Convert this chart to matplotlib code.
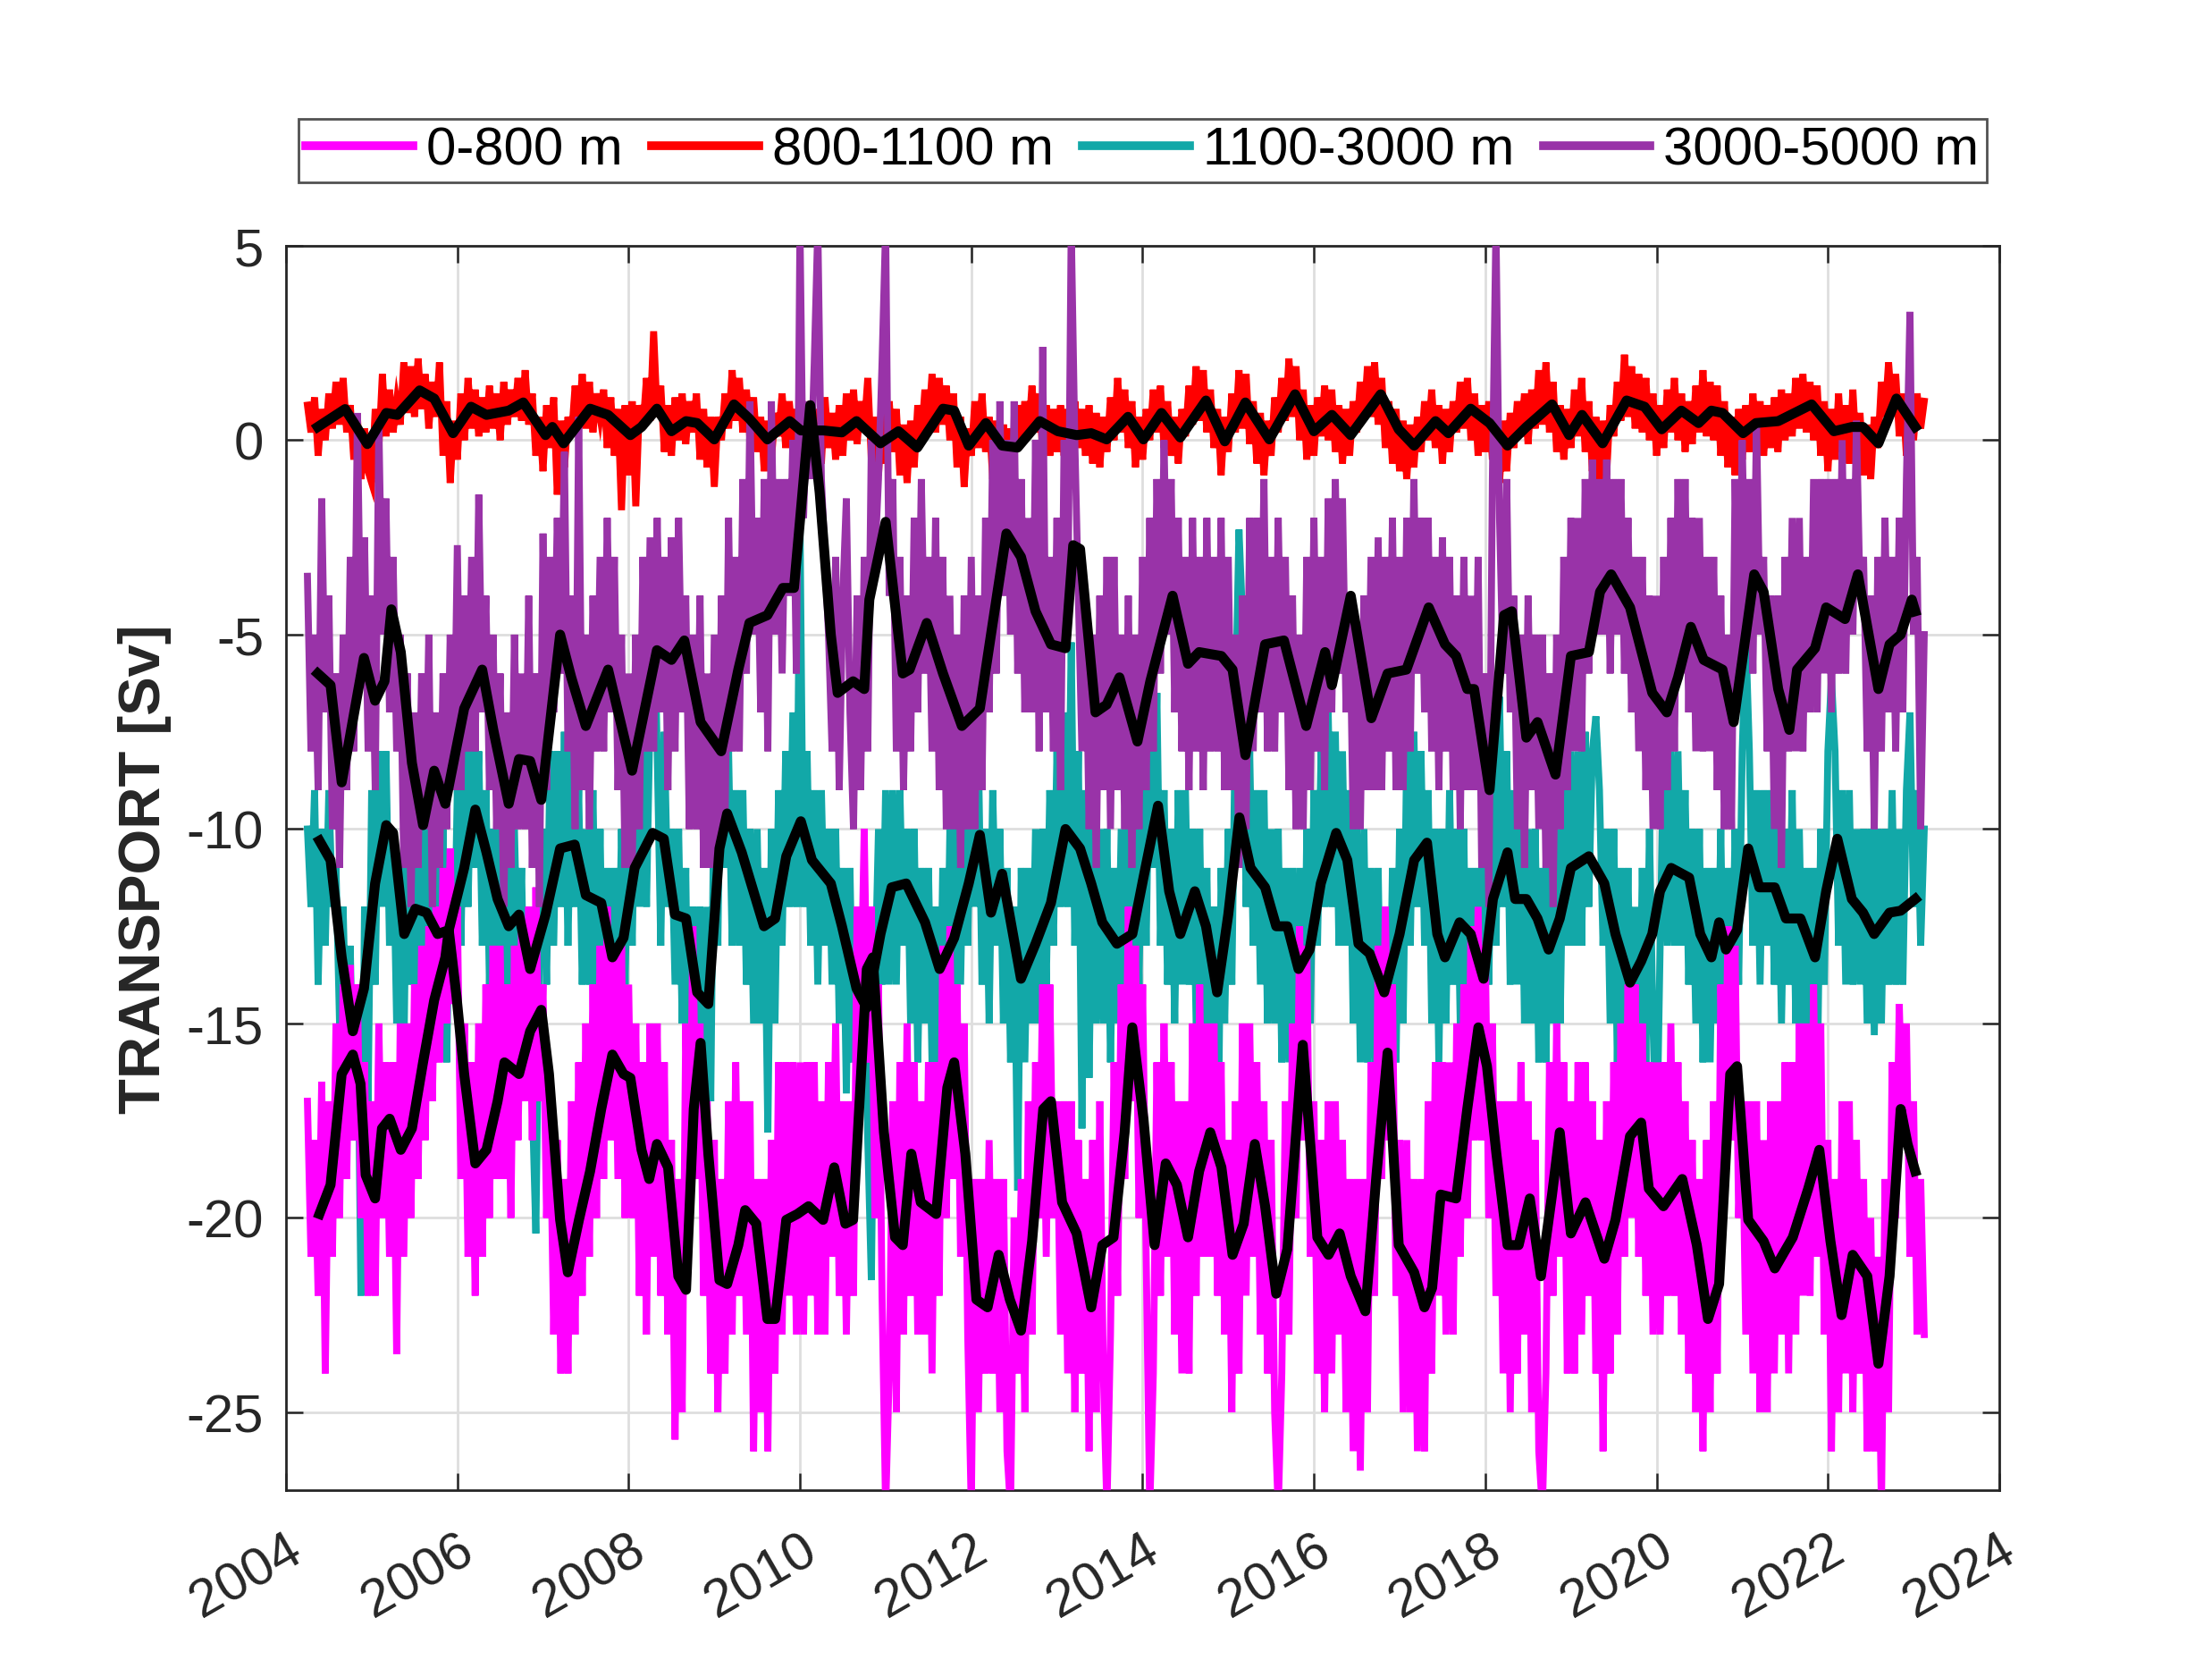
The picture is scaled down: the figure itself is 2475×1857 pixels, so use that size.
import matplotlib
matplotlib.use("Agg")
import matplotlib.pyplot as plt
import numpy as np

plt.rcParams['font.family'] = ['Liberation Sans', 'DejaVu Sans']
plt.rcParams['axes.unicode_minus'] = False

labels = ['0-800 m', '800-1100 m', '1100-3000 m', '3000-5000 m']
colors = ['#FF00FF', '#FF0000', '#12A8A8', '#9933A8']

# raw transports, half-monthly samples from 2004.25 (one row per year)
t_start = 2004.25
raw_0_800 = [
    -17, -21, -18, -22, -16.5, -24, -17, -21, -15, -20, -14, -19, -13.5, -18, -14, -20, -16, -22,
    -17, -22, -15, -20, -16, -21, -16, -23.5, -15, -21, -15, -20, -14, -19, -13, -18, -12.5, -17, -12, -16, -11, -15, -10.5, -14.5,
    -12, -19, -15, -21, -16, -22, -15, -21, -14, -20, -13, -19, -13, -19, -14, -20, -13, -18, -12.5, -17, -12, -18, -11.5, -17,
    -14, -20, -17, -23, -18, -24, -19, -24, -17, -23, -16, -22, -15, -21, -14, -20, -13, -19, -12, -18, -13, -19, -13, -20,
    -14, -20, -15, -22, -16, -23, -15, -21, -15, -22, -16, -23, -18, -25.7, -19, -25, -15, -20, -12.5, -19, -15, -22, -17, -24,
    -18, -25, -19, -24, -17, -23, -16, -22, -17, -23, -17, -26, -19, -25, -19, -26, -18, -24, -16, -23, -16, -22, -16, -23,
    -16, -23, -16, -22, -16, -23, -17, -23, -16, -21, -15, -22, -17, -23, -17, -22, -12, -15, -10, -16, -12, -20, -14, -22,
    -27.5, -24, -17, -25, -16, -23, -15, -22, -16, -23, -17, -23, -16, -24, -16, -22, -13, -20, -12.5, -19, -14, -21, -15, -23,
    -27.5, -19, -25, -19, -24, -18, -24, -19, -25, -19, -26, -27.5, -20, -24, -19, -25, -17, -23, -16, -20, -14, -21, -14, -20,
    -17, -23, -17, -24, -17, -25, -18, -24, -19, -26, -18, -25, -17, -24, -27.5, -23, -16, -22, -14, -19, -12, -17, -13, -20,
    -14, -21, -27.5, -24, -16, -22, -15, -21, -16, -23, -17, -24, -17, -24, -15, -22, -14, -21, -15, -21, -15, -22, -16, -23,
    -18, -25, -17, -24, -15, -22, -15, -21, -16, -23, -17, -24, -18, -25, -27.5, -24, -17, -23, -15, -20, -12.5, -18, -13, -21,
    -17, -24, -18, -25, -17, -24, -17, -23, -18, -25, -19, -26, -19, -26.5, -19, -25, -16, -22, -13, -19, -12, -18, -14, -22,
    -18, -25, -18, -25, -19, -26, -19, -26, -17, -24, -16, -22, -16, -23, -16, -23, -15, -21, -14, -20, -12.5, -18, -12, -18,
    -13, -20, -15, -22, -17, -24, -17, -25, -17, -24, -16, -23, -17, -25, -18, -26, -27.5, -24, -16, -22, -15, -21, -16, -24,
    -17, -24, -16, -23, -16, -22, -17, -24, -18, -26, -17, -24, -16, -23, -15, -21, -14, -20, -14, -21, -15, -22, -16, -23,
    -16, -23, -16, -22, -15, -22, -16, -23, -17, -24, -18, -25, -19, -26, -18, -25, -17, -24, -14, -19, -12.5, -18, -13, -20,
    -17, -23, -17, -24, -17, -25, -18, -25, -17, -24, -17, -23, -16, -24, -16, -23, -15, -22, -15, -22, -14, -21, -15, -23,
    -18, -26, -19, -25, -17, -24, -17, -25, -18, -24, -19, -26, -20, -26, -21, -27.5, -19, -25, -16, -20, -14.5, -18, -15, -21,
    -17, -23, -19, -23,
]
raw_800_1100 = [
    0.9, 0.2, 1.1, -0.4, 0.8, 0.0, 1.2, 0.3, 1.5, 0.4, 1.6, 0.2, 0.9, -0.5, 0.6, -1.0, 0.3, -0.8,
    -1.1, 0.8, -0.2, 1.7, 0.1, 1.3, 0.2, 1.0, 0.4, 2.0, 0.7, 1.9, 0.6, 2.1, 0.8, 1.7, 0.3, 1.5, 0.6, 2.0, -0.4, 1.0, -1.1, 0.5,
    -0.5, 1.2, 0.0, 1.6, 0.3, 1.3, 0.1, 1.1, 0.2, 1.4, 0.3, 1.2, 0.0, 1.5, 0.4, 1.3, 0.6, 1.6, 0.5, 1.8, 0.4, 1.2, -0.4, 0.6,
    -0.8, 0.9, -0.2, 1.1, -1.4, 0.5, -0.7, 0.6, 0.1, 1.4, 0.4, 1.7, 0.3, 1.5, 0.2, 1.2, 0.6, 1.3, -0.2, 1.1, -0.4, 0.8, -1.8, 0.9,
    -0.9, 1.0, -1.7, 0.9, 0.3, 1.6, 0.5, 2.8, 0.6, 1.4, -0.3, 0.9, -0.4, 1.1, 0.0, 1.2, -0.1, 1.0, 0.2, 1.2, -0.5, 0.8, -0.7, 0.6,
    -1.2, 0.6, 0.0, 1.2, 0.3, 1.8, 0.5, 1.6, 0.2, 1.3, 0.0, 1.1, -0.3, 0.6, -0.8, 0.5, -0.5, 0.7, 0.1, 1.2, -0.2, 1.0, 0.0, 0.8,
    -0.5, 0.9, -0.3, 1.0, -0.4, 0.8, -0.6, 1.1, -0.2, 0.7, -0.5, 0.9, -0.4, 1.2, 0.0, 1.3, -0.1, 1.0, 0.3, 1.6, -0.5, 0.6, -0.9, 0.7,
    -0.6, 1.0, -0.3, 0.8, -0.9, 0.4, -1.1, 0.5, -0.7, 0.9, 0.0, 1.3, 0.3, 1.7, 0.2, 1.6, 0.4, 1.4, 0.0, 1.2, -0.7, 0.6, -1.2, 0.3,
    -0.4, 1.0, -0.2, 1.2, -0.3, 0.6, -1.0, 0.5, -0.9, 0.4, -0.6, 0.3, -0.4, 0.9, -0.1, 1.0, 0.1, 1.4, 0.2, 1.2, -0.3, 0.9, -0.4, 0.8,
    -0.3, 0.9, -0.4, 0.8, -0.5, 1.0, -0.2, 0.8, -0.4, 0.9, -0.6, 0.7, -0.7, 0.6, -0.3, 1.1, 0.0, 1.6, 0.2, 1.3, -0.2, 1.0, -0.7, 0.6,
    -0.5, 0.8, 0.0, 1.3, 0.2, 1.4, -0.2, 1.0, -0.4, 0.6, -0.6, 0.8, 0.1, 1.4, 0.4, 1.9, 0.5, 1.8, 0.2, 1.3, -0.2, 0.8, -0.9, 0.6,
    -0.3, 1.2, 0.2, 1.8, 0.3, 1.7, -0.1, 1.0, -0.6, 0.7, -0.9, 0.5, -0.4, 1.1, 0.2, 1.6, 0.5, 2.1, 0.6, 1.9, 0.0, 1.3, -0.5, 0.9,
    -0.4, 1.1, 0.1, 1.4, 0.0, 1.3, -0.3, 0.9, -0.6, 0.8, -0.4, 1.0, 0.2, 1.5, 0.5, 1.9, 0.6, 2.0, 0.4, 1.6, -0.2, 1.0, -0.6, 0.8,
    -0.8, 0.5, -1.0, 0.4, -0.7, 0.6, -0.3, 1.0, 0.0, 1.3, -0.2, 0.9, -0.6, 0.8, -0.3, 1.0, 0.2, 1.5, 0.3, 1.6, 0.0, 1.2, -0.4, 0.9,
    -0.3, 1.0, -0.5, 0.6, -1.1, 0.5, -0.8, 0.7, -0.2, 1.0, 0.1, 1.2, -0.1, 1.3, 0.3, 1.8, 0.4, 2.0, 0.2, 1.5, -0.3, 0.9, -0.5, 0.8,
    -0.2, 1.3, 0.1, 1.6, -0.3, 1.0, -0.8, 0.6, -1.6, 0.5, -0.9, 0.9, 0.1, 1.5, 0.5, 2.2, 0.6, 1.9, 0.3, 1.7, 0.2, 1.6, 0.0, 1.2,
    -0.4, 0.9, -0.2, 1.3, 0.2, 1.6, 0.0, 1.2, -0.3, 1.0, -0.1, 1.4, 0.2, 1.8, 0.1, 1.5, 0.0, 1.4, -0.4, 1.0, -0.7, 0.6, -0.9, 0.8,
    -0.5, 0.9, -0.3, 1.2, -0.1, 1.0, -0.4, 0.9, -0.2, 1.1, -0.3, 1.3, 0.0, 1.2, 0.1, 1.6, 0.3, 1.7, 0.2, 1.5, 0.0, 1.4, -0.4, 1.0,
    -0.8, 0.8, -0.5, 1.2, -0.3, 0.9, -0.6, 1.3, -0.4, 0.7, -0.9, 0.4, -1.0, 0.6, -0.2, 1.5, 0.6, 2.0, 0.8, 1.7, 0.1, 1.2, -0.4, 0.9,
    0.0, 1.2, 0.3, 1.0,
]
raw_1100_3000 = [
    -10, -12, -9, -14, -10, -13, -9, -12, -11, -15, -12, -16, -13, -18, -14, -22, -12, -17,
    -9, -14, -8, -12, -8, -13, -10, -15, -11, -16, -9, -14, -10, -15, -9, -14, -10, -16, -11, -15, -10, -16, -11, -14,
    -9, -13, -8, -12, -7.5, -11, -8, -13, -9, -14, -10, -15, -10, -15, -11, -14, -10, -14, -11, -16, -12, -17, -20.4, -13,
    -10, -14, -8, -13, -8, -12, -7.5, -13, -8, -12, -9, -14, -10, -14, -9, -15, -10, -16, -11, -16, -11, -15, -10, -14,
    -9, -13, -8, -12, -8, -12, -7, -3.5, -8, -13, -7.5, -12, -10, -14, -10, -15, -11, -18.4, -12, -16, -12, -17, -12, -17,
    -8, -13, -4.8, -11, -8, -13, -9, -13, -9, -14, -10, -15, -10, -15, -11, -17.8, -10, -15, -9, -13, -8, -12, -7, -12,
    -2, -12, -8, -13, -9, -14, -9, -13, -10, -14, -10, -15, -11, -16.8, -11, -16, -12, -17, -12, -18, -21.6, -14, -10, -14,
    -9, -14, -9, -14, -9, -13, -10, -15, -10, -16, -11, -15, -11, -16, -12, -17, -11, -16, -10, -15, -9, -14, -9, -13,
    -8, -12, -8, -14, -10, -15, -9, -13, -10, -15, -11, -16, -12, -19.3, -11, -16, -11, -15, -10, -15, -10, -14, -9, -13,
    -8, -12, -7, -12, -5.2, -13, -8, -17.7, -9, -16.4, -10, -15, -10, -15, -10, -16, -11, -15, -10, -15, -10, -16, -10, -14,
    -8, -13, -7, -11, -6.5, -13, -9, -14, -10, -15, -9, -14, -9, -14, -10, -15, -10, -16, -11, -17, -12, -19.9, -11, -15,
    -10, -14, -7, -2.3, -4.6, -12, -8, -13, -9, -14, -9, -15, -10, -15, -10, -16, -11, -16, -11, -17, -11, -17.3, -10, -15,
    -9, -13, -8, -12, -7, -12, -7.5, -13, -8, -13, -9, -15, -10, -16, -10, -16, -11, -16, -11, -17, -12, -17, -11, -16,
    -10, -15, -8, -13, -7.5, -12, -8, -13, -9, -15, -10, -16, -10, -15, -9, -14, -10, -15, -10, -17.3, -11, -16, -11, -17,
    -9, -14, -8, -13, -6.6, -12, -8, -14, -9, -14, -9, -15, -10, -15, -10, -16, -11, -16, -10, -15, -10, -15, -9, -13,
    -8, -13, -8, -13, -7.5, -12, -8, -7.1, -9, -13, -10, -15, -10, -16, -11, -16, -11, -17, -12, -17, -11, -16, -10, -15,
    -18.4, -13, -8, -13, -8, -13, -8, -13, -9, -14, -10, -15, -10, -16, -11, -16, -11, -15, -10, -16, -11, -15, -10, -14,
    -8, -5, -8, -13, -9, -14, -9, -13, -9, -14, -10, -15, -10, -14, -9, -15, -10, -15, -11, -16, -11, -16.8, -10, -14,
    -8, -6.1, -8, -13, -9, -14, -9, -14, -10, -14, -10, -15, -10, -15.3, -10, -15, -10, -14, -9, -14, -10, -14, -9, -7,
    -12, -9, -13, -10,
]
raw_3000_5000 = [
    -3.5, -8, -5, -9, -1.5, -7, -4, -10, -6, -11, -5, -9, -3, -8, 0.7, -6, -2.5, -8,
    -4, -9, 0.5, -5, -1.5, -7, -3, -8, -5, -11, -6, -12, -7, -11, -6, -10, -5, -12, -7, -11, -6, -10, -5, -9,
    -2.7, -9, -4, -8, -3, -8, -1.4, -7, -4, -9, -5, -10, -6, -12, -7, -11, -5, -10, -6, -10, -4, -11, -6, -12,
    -2.4, -9, -3, -7, -2, -6, -0.3, -8, -4, -10, 0.6, -9, -5, -10, -4, -8, -3, -8, -2, -7, -3, -9, -5, -11,
    -6, -11, -5, -10, -3, -8, -2.5, -8, -2, -7, -3, -9, -2.5, -8, -2, -7, -4, -10, -5, -10, -4, -11, -6, -11,
    -5, -11, -4, -10, -2, -8, -3, -8, -1, -6, 1, -5, -2, -7, -1, -8, 1, -5, -1, -6, -1, -4, 0, -6,
    5.5, -2, 1, -1, 2, 5.5, -1, -3, -5, -8, -3, -9, -4, -1.5, -7, -10, -4, -9, -3, -8, 0, -3, -1, 2,
    5.5, -4, -1, -8, -3, -9, -4, -8, -2, -7, -1, -6, -3, -8, -2, -9, -3, -10, -4, -10, -5, -11, -4, -10,
    -3, -10, -4, -9, -2, -7, 0, -6, 1, -4, 0, -5, 1, -6, -1, -7, -2, -7, 0, -8, 2.4, -7, -3, -8,
    -2, -9, 0, -5, 5.5, 0, -4, -8, -4, -10, -5, -11, -4, -9, -3, -10, -3, -9, -5, -10, -4, -11, -5, -10,
    -3, -9, -2, -8, -1, -6, 0, -5, -1, -7, -2, -8, -3, -9, -2, -8, -3, -9, -2, -8, -3, -8, -2, -9,
    -3, -9, -5, -11, -4, -10, -2, -8, -2, -7, -1, -8, -3, -8, -2, -7, -3, -9, -4, -10, -5, -10, -3, -9,
    -2, -8, -3, -9, -1.5, -7, -1, -6, -1.5, -7, -4, -10, -5, -10, -4, -9, -3, -9, -2.5, -9, -3, -8, -2, -9,
    -3, -9, -2, -8, -1, -6, -2, -7, -2, -8, -3, -9, -2.5, -8, -3, -9, -4, -10, -3, -9, -4, -9, -3, -11,
    -6, -12, -1, 5.5, -2, -6, -1, -7, -4, -10, -5, -11, -4, -9, -5, -10, -5, -11, -6, -12, -5, -10, -3, -9,
    -2, -8, -2, -8, -1, -6, -0.5, -5, -1, -5, -0.5, -6, -1, -5, -1, -6, -2, -7, -3, -8, -3, -9, -4, -10,
    -4, -10, -3, -9, -2, -8, -1, -6, -1, -7, -2, -8, -2, -8, -3, -8, -3, -9, -4, -10, -5, -10, -1, -6,
    0, -5, -1, -6, 0.5, -5, -3, -8, -4, -10, -4, -11, -3, -8, -2, -8, -2, -8, -3, -7, -1, -7, -1, -6,
    -1, -7, -1, -6, 0, -6, -1, -5, 0.5, -4, -3, -8, -4, -10, -3, -8, -2, -7, -3, -8, -2, -7, -1, 3.3,
    -5, -3, -10, -5,
]

# smoothed transports (black curves): (year, Sv)
smooth_0_800 = [
    (2004.39, -19.9), (2004.52, -19.15), (2004.65, -16.3), (2004.78, -15.8), (2004.87, -16.55), (2004.93, -18.9),
    (2005.04, -19.5), (2005.12, -17.7), (2005.21, -17.45), (2005.34, -18.25), (2005.47, -17.7), (2005.60, -16.0),
    (2005.73, -14.4), (2005.86, -13.3), (2005.90, -12.6), (2005.99, -14.3), (2006.08, -16.3), (2006.21, -18.6),
    (2006.34, -18.25), (2006.47, -17.0), (2006.55, -16.0), (2006.72, -16.3), (2006.85, -15.2), (2006.98, -14.65),
    (2007.07, -16.3), (2007.20, -20.05), (2007.29, -21.4), (2007.42, -20.05), (2007.55, -18.8), (2007.68, -17.2),
    (2007.81, -15.8), (2007.94, -16.3), (2008.02, -16.4), (2008.15, -18.25), (2008.24, -19.0), (2008.33, -18.1),
    (2008.46, -18.7), (2008.58, -21.5), (2008.67, -21.85), (2008.76, -17.2), (2008.84, -15.5), (2008.93, -18.35),
    (2009.06, -21.6), (2009.15, -21.7), (2009.28, -20.7), (2009.36, -19.8), (2009.49, -20.15), (2009.62, -22.6),
    (2009.71, -22.6), (2009.84, -20.05), (2009.97, -19.9), (2010.10, -19.7), (2010.27, -20.05), (2010.40, -18.7),
    (2010.53, -20.15), (2010.62, -20.05), (2010.78, -13.6), (2010.85, -13.3), (2010.98, -17.8), (2011.11, -20.5),
    (2011.20, -20.7), (2011.30, -18.35), (2011.41, -19.6), (2011.59, -19.9), (2011.72, -16.65), (2011.80, -16.0),
    (2011.93, -18.35), (2012.06, -22.1), (2012.19, -22.3), (2012.32, -20.95), (2012.45, -22.1), (2012.58, -22.9),
    (2012.71, -20.6), (2012.84, -17.2), (2012.93, -17.0), (2013.06, -19.6), (2013.23, -20.4), (2013.40, -22.3),
    (2013.53, -20.7), (2013.66, -20.5), (2013.79, -17.8), (2013.88, -15.1), (2014.01, -17.45), (2014.14, -20.7),
    (2014.27, -18.6), (2014.40, -19.15), (2014.53, -20.5), (2014.66, -18.8), (2014.79, -17.8), (2014.92, -18.7),
    (2015.05, -20.95), (2015.18, -20.15), (2015.31, -18.1), (2015.43, -19.7), (2015.56, -21.95), (2015.69, -20.8),
    (2015.87, -15.55), (2016.04, -20.5), (2016.17, -20.95), (2016.30, -20.4), (2016.43, -21.5), (2016.60, -22.4),
    (2016.73, -18.9), (2016.86, -15.75), (2016.99, -20.7), (2017.17, -21.4), (2017.29, -22.3), (2017.38, -21.8),
    (2017.48, -19.4), (2017.66, -19.5), (2017.79, -17.2), (2017.92, -15.1), (2018.02, -16.1), (2018.13, -18.35),
    (2018.26, -20.7), (2018.39, -20.7), (2018.52, -19.5), (2018.65, -21.5), (2018.78, -19.4), (2018.87, -17.8),
    (2019.00, -20.4), (2019.17, -19.6), (2019.39, -21.05), (2019.52, -20.05), (2019.69, -17.9), (2019.82, -17.55),
    (2019.91, -19.25), (2020.08, -19.7), (2020.30, -19.0), (2020.47, -20.7), (2020.60, -22.6), (2020.73, -21.7),
    (2020.86, -16.3), (2020.94, -16.1), (2021.07, -20.05), (2021.25, -20.6), (2021.38, -21.3), (2021.59, -20.5),
    (2021.77, -19.25), (2021.90, -18.25), (2022.03, -20.6), (2022.16, -22.5), (2022.29, -20.95), (2022.46, -21.5),
    (2022.59, -23.75), (2022.72, -21.5), (2022.85, -17.2), (2022.93, -18.1), (2023.02, -18.8),
]
smooth_800_1100 = [
    (2004.37, 0.34), (2004.69, 0.8), (2004.95, -0.1), (2005.17, 0.7), (2005.30, 0.65), (2005.56, 1.28),
    (2005.73, 1.07), (2005.95, 0.18), (2006.16, 0.86), (2006.34, 0.65), (2006.60, 0.76), (2006.77, 0.97),
    (2007.03, 0.13), (2007.11, 0.34), (2007.24, -0.08), (2007.55, 0.81), (2007.76, 0.65), (2008.02, 0.13),
    (2008.15, 0.34), (2008.33, 0.81), (2008.50, 0.23), (2008.67, 0.49), (2008.80, 0.44), (2009.00, 0.02),
    (2009.23, 0.92), (2009.41, 0.55), (2009.62, 0.02), (2009.88, 0.49), (2010.01, 0.25), (2010.27, 0.25),
    (2010.49, 0.2), (2010.66, 0.49), (2010.94, -0.08), (2011.15, 0.23), (2011.37, -0.19), (2011.67, 0.81),
    (2011.80, 0.76), (2011.97, -0.14), (2012.17, 0.44), (2012.36, -0.14), (2012.54, -0.19), (2012.80, 0.49),
    (2013.01, 0.23), (2013.23, 0.13), (2013.40, 0.18), (2013.58, 0.02), (2013.83, 0.6), (2014.01, 0.02),
    (2014.22, 0.7), (2014.44, 0.07), (2014.74, 1.02), (2014.96, -0.03), (2015.20, 0.97), (2015.48, 0.02),
    (2015.78, 1.18), (2016.00, 0.23), (2016.21, 0.65), (2016.43, 0.13), (2016.78, 1.18), (2016.99, 0.28),
    (2017.17, -0.14), (2017.42, 0.49), (2017.57, 0.18), (2017.83, 0.81), (2018.05, 0.44), (2018.26, -0.14),
    (2018.48, 0.34), (2018.78, 0.92), (2018.98, 0.13), (2019.13, 0.65), (2019.37, -0.08), (2019.65, 1.02),
    (2019.86, 0.86), (2020.06, 0.28), (2020.29, 0.76), (2020.49, 0.44), (2020.64, 0.76), (2020.77, 0.7),
    (2021.01, 0.18), (2021.16, 0.44), (2021.42, 0.49), (2021.81, 0.92), (2022.07, 0.23), (2022.28, 0.34),
    (2022.41, 0.34), (2022.59, -0.08), (2022.80, 1.07), (2023.02, 0.34),
]
smooth_1100_3000 = [
    (2004.39, -10.3), (2004.52, -10.8), (2004.65, -13.3), (2004.78, -15.2), (2004.91, -14.1), (2005.04, -11.4),
    (2005.17, -9.9), (2005.25, -10.1), (2005.38, -12.7), (2005.51, -12.05), (2005.64, -12.15), (2005.77, -12.7),
    (2005.90, -12.6), (2006.08, -11.0), (2006.21, -9.5), (2006.34, -10.6), (2006.47, -11.8), (2006.60, -12.5),
    (2006.72, -12.2), (2006.85, -13.6), (2007.03, -12.2), (2007.20, -10.5), (2007.37, -10.4), (2007.50, -11.7),
    (2007.68, -11.9), (2007.81, -13.3), (2007.94, -12.8), (2008.07, -11.0), (2008.28, -10.1), (2008.41, -10.25),
    (2008.54, -12.2), (2008.67, -12.3), (2008.80, -14.2), (2008.93, -14.5), (2009.06, -10.5), (2009.15, -9.6),
    (2009.32, -10.6), (2009.58, -12.5), (2009.71, -12.3), (2009.84, -10.7), (2010.01, -9.8), (2010.14, -10.8),
    (2010.36, -11.4), (2010.49, -12.5), (2010.66, -14.1), (2010.78, -14.6), (2010.94, -12.7), (2011.07, -11.5),
    (2011.24, -11.4), (2011.46, -12.4), (2011.63, -13.6), (2011.80, -12.8), (2011.97, -11.4), (2012.10, -10.15),
    (2012.23, -12.15), (2012.36, -11.15), (2012.58, -13.85), (2012.75, -12.95), (2012.93, -11.9), (2013.10, -10.0),
    (2013.27, -10.5), (2013.40, -11.4), (2013.53, -12.4), (2013.70, -12.95), (2013.88, -12.7), (2014.01, -11.25),
    (2014.18, -9.4), (2014.31, -11.6), (2014.44, -12.7), (2014.61, -11.6), (2014.74, -12.5), (2014.87, -14.2),
    (2015.00, -12.2), (2015.13, -9.7), (2015.26, -11.0), (2015.43, -11.5), (2015.56, -12.5), (2015.69, -12.5),
    (2015.82, -13.6), (2015.95, -13.1), (2016.08, -11.4), (2016.26, -10.1), (2016.39, -10.8), (2016.52, -12.95),
    (2016.65, -13.2), (2016.82, -14.2), (2017.00, -12.7), (2017.17, -10.8), (2017.32, -10.35), (2017.44, -12.7),
    (2017.53, -13.3), (2017.70, -12.4), (2017.83, -12.7), (2017.98, -13.85), (2018.09, -11.8), (2018.26, -10.6),
    (2018.35, -11.8), (2018.48, -11.8), (2018.61, -12.3), (2018.74, -13.1), (2018.87, -12.3), (2019.00, -11.0),
    (2019.21, -10.7), (2019.39, -11.4), (2019.52, -12.7), (2019.69, -13.95), (2019.82, -13.4), (2019.95, -12.7),
    (2020.04, -11.6), (2020.17, -11.0), (2020.38, -11.25), (2020.51, -12.7), (2020.64, -13.3), (2020.73, -12.4),
    (2020.81, -13.1), (2020.94, -12.6), (2021.07, -10.5), (2021.20, -11.5), (2021.38, -11.5), (2021.51, -12.3),
    (2021.68, -12.3), (2021.85, -13.3), (2021.98, -11.6), (2022.11, -10.25), (2022.28, -11.8), (2022.41, -12.15),
    (2022.54, -12.7), (2022.72, -12.15), (2022.85, -12.1), (2023.02, -11.8),
]
smooth_3000_5000 = [
    (2004.37, -6.0), (2004.52, -6.3), (2004.65, -8.8), (2004.74, -7.7), (2004.91, -5.6), (2005.04, -6.7),
    (2005.15, -6.2), (2005.23, -4.35), (2005.34, -5.45), (2005.47, -8.3), (2005.60, -9.9), (2005.73, -8.5),
    (2005.86, -9.35), (2006.08, -6.9), (2006.29, -5.9), (2006.42, -7.45), (2006.60, -9.35), (2006.72, -8.2),
    (2006.85, -8.25), (2006.98, -9.25), (2007.20, -5.0), (2007.33, -6.1), (2007.50, -7.35), (2007.76, -5.9),
    (2008.04, -8.5), (2008.33, -5.4), (2008.50, -5.65), (2008.65, -5.15), (2008.84, -7.25), (2009.08, -8.0),
    (2009.28, -5.9), (2009.41, -4.7), (2009.62, -4.5), (2009.80, -3.8), (2009.93, -3.8), (2010.12, 0.9),
    (2010.23, -1.35), (2010.36, -5.0), (2010.44, -6.5), (2010.62, -6.2), (2010.75, -6.4), (2010.81, -4.1),
    (2011.00, -2.1), (2011.20, -6.0), (2011.28, -5.9), (2011.48, -4.7), (2011.67, -6.0), (2011.89, -7.35),
    (2012.10, -6.9), (2012.23, -5.0), (2012.41, -2.4), (2012.58, -3.0), (2012.75, -4.4), (2012.93, -5.25),
    (2013.10, -5.35), (2013.19, -2.7), (2013.27, -2.8), (2013.45, -7.0), (2013.58, -6.8), (2013.73, -6.1),
    (2013.94, -7.75), (2014.09, -6.2), (2014.35, -4.0), (2014.53, -5.75), (2014.66, -5.45), (2014.92, -5.55),
    (2015.05, -5.9), (2015.20, -8.1), (2015.43, -5.25), (2015.65, -5.15), (2015.91, -7.35), (2016.13, -5.45),
    (2016.21, -6.3), (2016.43, -4.0), (2016.67, -7.15), (2016.86, -6.0), (2017.08, -5.9), (2017.34, -4.3),
    (2017.53, -5.25), (2017.66, -5.55), (2017.79, -6.4), (2017.87, -6.4), (2018.05, -9.0), (2018.22, -4.5),
    (2018.31, -4.4), (2018.48, -7.65), (2018.61, -7.25), (2018.82, -8.6), (2019.00, -5.55), (2019.21, -5.45),
    (2019.34, -3.9), (2019.47, -3.45), (2019.69, -4.3), (2019.95, -6.5), (2020.12, -7.0), (2020.25, -6.1),
    (2020.40, -4.8), (2020.55, -5.65), (2020.77, -5.9), (2020.90, -7.25), (2021.14, -3.45), (2021.25, -3.9),
    (2021.42, -6.4), (2021.55, -7.45), (2021.64, -5.9), (2021.85, -5.35), (2021.98, -4.3), (2022.20, -4.6),
    (2022.35, -3.45), (2022.59, -6.4), (2022.72, -5.25), (2022.85, -5.0), (2022.98, -4.1), (2023.02, -4.4),
]

xticks = [2004, 2006, 2008, 2010, 2012, 2014, 2016, 2018, 2020, 2022, 2024]
yticks = [-25, -20, -15, -10, -5, 0, 5]

raw_series = [raw_0_800, raw_800_1100, raw_1100_3000, raw_3000_5000]
smooth_series = [smooth_0_800, smooth_800_1100, smooth_1100_3000, smooth_3000_5000]
draw_order = [1, 2, 0, 3]   # red at the bottom, purple on top

fig = plt.figure(figsize=(12.375, 9.29), dpi=200)
ax = fig.add_axes([0.1293, 0.1023, 0.7745, 0.7492])

handles = {}
for z, i in enumerate(draw_order):
    vals = np.array(raw_series[i], dtype=float)
    t = t_start + np.arange(len(vals)) / 24.0
    h, = ax.plot(t, vals, color=colors[i], lw=2.8, label=labels[i], zorder=2 + z,
                 solid_joinstyle='miter')
    handles[i] = h

for s in smooth_series:
    ts, vs = zip(*s)
    ax.plot(ts, vs, color='black', lw=4.0, zorder=10, solid_joinstyle='round')

ax.set_xlim(2004, 2024)
ax.set_ylim(-27, 5)
ax.set_xticks(xticks)
ax.set_xticklabels([str(x) for x in xticks], rotation=30, ha='right',
                   rotation_mode='anchor')
ax.set_yticks(yticks)
ax.set_yticklabels([str(y) for y in yticks])
ax.grid(True, color='#DEDEDE', lw=1.0)
ax.set_axisbelow(True)
ax.tick_params(direction='in', length=7, width=0.9, top=True, right=True,
               labelsize=21.5, colors='#262626')
ax.tick_params(axis='y', pad=9)
ax.tick_params(axis='x', pad=14)
for sp in ax.spines.values():
    sp.set_color('#262626')
    sp.set_linewidth(1.0)

ax.set_ylabel('TRANSPORT [Sv]', fontsize=23.5, fontweight='bold', color='#262626',
              labelpad=6)

leg = fig.legend([handles[i] for i in range(4)], labels, loc='center',
                 bbox_to_anchor=(0.5165, 0.9088), ncol=4, fontsize=21.5,
                 frameon=True, fancybox=False, edgecolor='#262626',
                 borderpad=0.14, handlelength=2.0, handletextpad=0.25,
                 columnspacing=0.55, borderaxespad=0)
leg.get_frame().set_linewidth(1.0)
for line in leg.get_lines():
    line.set_linewidth(3.5)

fig.savefig('out.png', dpi=200)
